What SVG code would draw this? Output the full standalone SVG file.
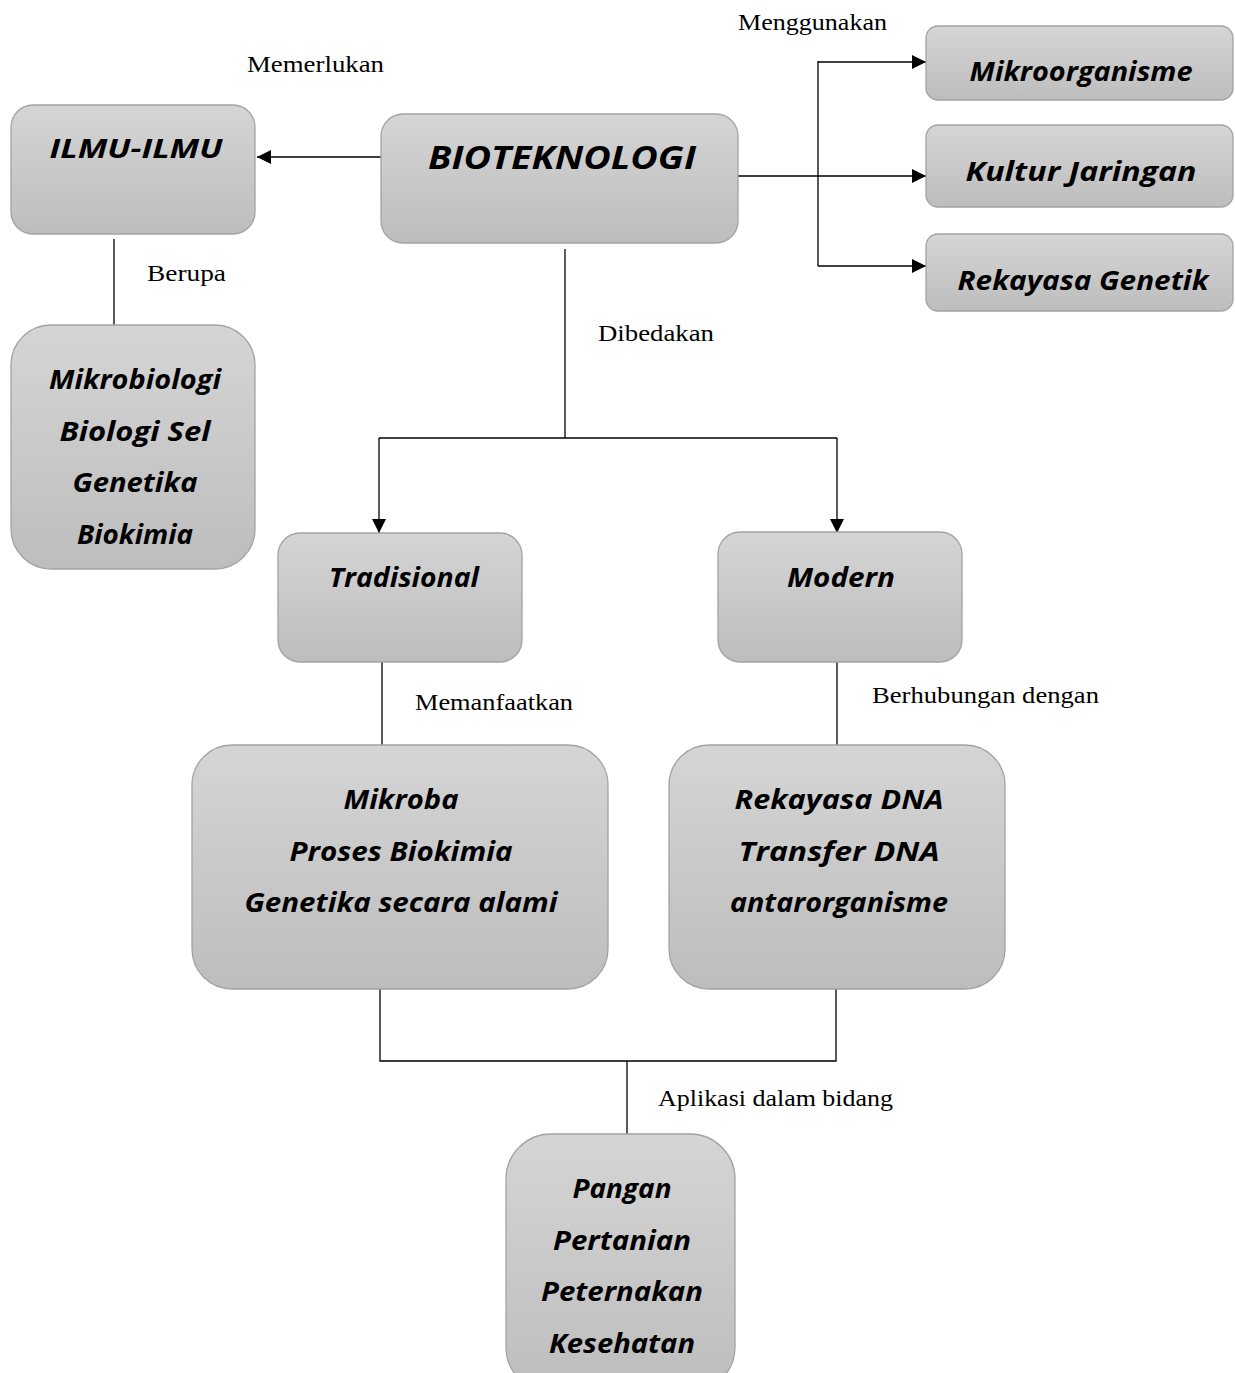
<svg xmlns="http://www.w3.org/2000/svg" width="1235" height="1373" viewBox="0 0 1235 1373">
<defs>
<linearGradient id="g" x1="0" y1="0" x2="0" y2="1">
<stop offset="0" stop-color="#d5d5d5"/>
<stop offset="1" stop-color="#bdbdbd"/>
</linearGradient>
<marker id="ah" viewBox="0 0 10 10" refX="10" refY="5" markerWidth="16" markerHeight="14" markerUnits="userSpaceOnUse" orient="auto">
<path d="M0,0 L10,5 L0,10 z" fill="#000"/>
</marker>
<style>
.box{fill:url(#g);stroke:#a3a3a3;stroke-width:1.3}
.t{font-family:"Open Sans","Noto Sans",sans-serif;font-weight:bold;font-style:italic;font-size:26px;fill:#000;text-anchor:middle}
.big{font-size:33px}
.lbl{font-family:"Liberation Serif","Times New Roman",serif;font-size:23px;fill:#000}
.c{fill:none;stroke:#000;stroke-width:1.3}
.a{marker-end:url(#ah)}
</style>
</defs>
<rect width="1235" height="1373" fill="#fff"/>
<g id="connectors">
<path class="c a" d="M381,157 H257"/>
<path class="c a" d="M738,176 H926"/>
<path class="c" d="M818,61 V266"/>
<path class="c a" d="M818,62 H926"/>
<path class="c a" d="M818,266 H926"/>
<path class="c" d="M114,239 V325"/>
<path class="c" d="M565,249 V438"/>
<path class="c" d="M379,438 H837"/>
<path class="c a" d="M379,438 V533"/>
<path class="c a" d="M837,438 V533"/>
<path class="c" d="M382,662 V745"/>
<path class="c" d="M837,662 V745"/>
<path class="c" d="M380,989 V1061 H836 V989"/>
<path class="c" d="M627,1061 V1134"/>
</g>
<g id="labels">
<text class="lbl" x="247" y="72" textLength="137" lengthAdjust="spacingAndGlyphs">Memerlukan</text>
<text class="lbl" x="738" y="30" textLength="149" lengthAdjust="spacingAndGlyphs">Menggunakan</text>
<text class="lbl" x="147" y="281" textLength="79" lengthAdjust="spacingAndGlyphs">Berupa</text>
<text class="lbl" x="598" y="341" textLength="116" lengthAdjust="spacingAndGlyphs">Dibedakan</text>
<text class="lbl" x="415" y="710" textLength="158" lengthAdjust="spacingAndGlyphs">Memanfaatkan</text>
<text class="lbl" x="872" y="703" textLength="227" lengthAdjust="spacingAndGlyphs">Berhubungan dengan</text>
<text class="lbl" x="658" y="1106" textLength="235" lengthAdjust="spacingAndGlyphs">Aplikasi dalam bidang</text>
</g>
<g id="n-ilmu">
<rect class="box" x="11" y="105" width="244" height="129" rx="22"/>
<text class="t" x="136" y="158" textLength="173" lengthAdjust="spacingAndGlyphs">ILMU-ILMU</text>
</g>
<g id="n-bioteknologi">
<rect class="box" x="381" y="114" width="357" height="129" rx="22"/>
<text class="t big" x="562" y="169" textLength="268" lengthAdjust="spacingAndGlyphs">BIOTEKNOLOGI</text>
</g>
<g id="n-mikroorganisme">
<rect class="box" x="926" y="26" width="307" height="74" rx="12"/>
<text class="t" x="1081" y="81" textLength="223" lengthAdjust="spacingAndGlyphs">Mikroorganisme</text>
</g>
<g id="n-kultur">
<rect class="box" x="926" y="125" width="307" height="82" rx="12"/>
<text class="t" x="1081" y="181" textLength="231" lengthAdjust="spacingAndGlyphs">Kultur Jaringan</text>
</g>
<g id="n-rekayasa">
<rect class="box" x="926" y="234" width="307" height="77" rx="12"/>
<text class="t" x="1083" y="290" textLength="251" lengthAdjust="spacingAndGlyphs">Rekayasa Genetik</text>
</g>
<g id="n-mikrobiologi">
<rect class="box" x="11" y="325" width="244" height="244" rx="40"/>
<text class="t" x="135" y="389" textLength="172" lengthAdjust="spacingAndGlyphs">Mikrobiologi</text>
<text class="t" x="135" y="441" textLength="151" lengthAdjust="spacingAndGlyphs">Biologi Sel</text>
<text class="t" x="135" y="492" textLength="125" lengthAdjust="spacingAndGlyphs">Genetika</text>
<text class="t" x="135" y="544" textLength="116" lengthAdjust="spacingAndGlyphs">Biokimia</text>
</g>
<g id="n-tradisional">
<rect class="box" x="278" y="533" width="244" height="129" rx="22"/>
<text class="t" x="404" y="587" textLength="150" lengthAdjust="spacingAndGlyphs">Tradisional</text>
</g>
<g id="n-modern">
<rect class="box" x="718" y="532" width="244" height="130" rx="22"/>
<text class="t" x="841" y="587" textLength="108" lengthAdjust="spacingAndGlyphs">Modern</text>
</g>
<g id="n-mikroba">
<rect class="box" x="192" y="745" width="416" height="244" rx="40"/>
<text class="t" x="401" y="809" textLength="115" lengthAdjust="spacingAndGlyphs">Mikroba</text>
<text class="t" x="401" y="861" textLength="223" lengthAdjust="spacingAndGlyphs">Proses Biokimia</text>
<text class="t" x="401" y="912" textLength="313" lengthAdjust="spacingAndGlyphs">Genetika secara alami</text>
</g>
<g id="n-dna">
<rect class="box" x="669" y="745" width="336" height="244" rx="40"/>
<text class="t" x="839" y="809" textLength="209" lengthAdjust="spacingAndGlyphs">Rekayasa DNA</text>
<text class="t" x="839" y="861" textLength="201" lengthAdjust="spacingAndGlyphs">Transfer DNA</text>
<text class="t" x="839" y="912" textLength="218" lengthAdjust="spacingAndGlyphs">antarorganisme</text>
</g>
<g id="n-pangan">
<rect class="box" x="506" y="1134" width="229" height="258" rx="45"/>
<text class="t" x="622" y="1198" textLength="99" lengthAdjust="spacingAndGlyphs">Pangan</text>
<text class="t" x="622" y="1250" textLength="138" lengthAdjust="spacingAndGlyphs">Pertanian</text>
<text class="t" x="622" y="1301" textLength="162" lengthAdjust="spacingAndGlyphs">Peternakan</text>
<text class="t" x="622" y="1353" textLength="146" lengthAdjust="spacingAndGlyphs">Kesehatan</text>
</g>
</svg>
